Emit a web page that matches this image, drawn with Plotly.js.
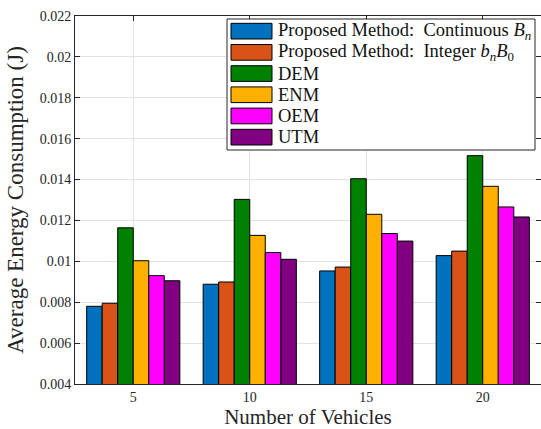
<!DOCTYPE html>
<html><head><meta charset="utf-8">
<script src="https://cdn.plot.ly/plotly-3.0.1.min.js"></script>
<style>html,body{margin:0;padding:0;background:#fff;overflow:hidden}</style>
</head><body><div id="chart" style="width:541px;height:429px"></div>
<script>
const vehicles = ['5', '10', '15', '20'];
const seriesNames = [
  'Proposed Method:&nbsp; Continuous <i>B</i><sub><i>n</i></sub>',
  'Proposed Method:&nbsp; Integer <i>b</i><sub><i>n</i></sub><i>B</i><sub>0</sub>',
  'DEM', 'ENM', 'OEM', 'UTM'
];
const continuousBn = [0.0078, 0.00888, 0.00953, 0.01028];
const integerBnB0 = [0.00795, 0.00899, 0.00972, 0.0105];
const dem = [0.01164, 0.01303, 0.01404, 0.01517];
const enm = [0.01003, 0.01127, 0.0123, 0.01367];
const oem = [0.0093, 0.01043, 0.01136, 0.01266];
const utm = [0.00905, 0.0101, 0.01099, 0.01217];
const yTickVals = [0.004, 0.006, 0.008, 0.01, 0.012, 0.014, 0.016, 0.018, 0.02, 0.022];
const yTickText = ['0.004', '0.006', '0.008', '0.01', '0.012', '0.014', '0.016', '0.018', '0.02', '0.022'];

const seriesValues = [continuousBn, integerBnB0, dem, enm, oem, utm];
const colors = ['#0072BD', '#D95319', '#008000', '#FFB000', '#FF00FF', '#800080'];

const FONT = 'Liberation Serif';
const AX = '#262626';

const traces = seriesValues.map((vals, i) => ({
  type: 'bar', x: vehicles, y: vals, name: seriesNames[i],
  marker: {color: colors[i], line: {color: '#000000', width: 1}},
  showlegend: false, hoverinfo: 'skip'
}));

// plot area in pixels: left 75, right 541, top 16, bottom 384
const L = 75, R = 541, T = 16, B = 384;
const px = x => (x - L) / (R - L);
const py = y => (B - y) / (B - T);

const shapes = [{
  type: 'rect', xref: 'paper', yref: 'paper', layer: 'above',
  x0: px(227), x1: px(535), y0: py(150), y1: py(19),
  fillcolor: '#ffffff', line: {color: AX, width: 1}
}];
const annotations = [];
const rowTop = 23.3, rowStep = 21.2, rowH = 15.7;
seriesNames.forEach((nm, i) => {
  const y0 = rowTop + i * rowStep;
  shapes.push({
    type: 'rect', xref: 'paper', yref: 'paper', layer: 'above',
    x0: px(231), x1: px(272), y0: py(y0 + rowH), y1: py(y0),
    fillcolor: colors[i], line: {color: '#000000', width: 1}
  });
  annotations.push({
    xref: 'paper', yref: 'paper', x: px(276), y: py(y0 + rowH / 2),
    xanchor: 'left', yanchor: 'middle', showarrow: false, text: nm,
    font: {family: FONT, size: 18.5, color: '#111111'}
  });
});

const layout = {
  width: 541, height: 429,
  margin: {l: L, r: 541 - R, t: T, b: 429 - B},
  paper_bgcolor: '#ffffff', plot_bgcolor: '#ffffff',
  barmode: 'group', bargap: 0.2, bargroupgap: 0,
  font: {family: FONT, color: AX},
  xaxis: {
    type: 'category', categoryorder: 'array', categoryarray: vehicles,
    range: [-0.5, 3.5], showgrid: true, gridcolor: '#e3e3e3', gridwidth: 1,
    showline: true, linecolor: AX, linewidth: 1, mirror: 'ticks',
    ticks: 'inside', ticklen: 5, tickcolor: AX,
    tickfont: {family: FONT, size: 14, color: AX},
    title: {text: 'Number of Vehicles', font: {family: FONT, size: 21, color: AX}, standoff: 8},
    zeroline: false, fixedrange: true
  },
  yaxis: {
    range: [0.004, 0.022], tickvals: yTickVals, ticktext: yTickText,
    showgrid: true, gridcolor: '#e3e3e3', gridwidth: 1,
    showline: true, linecolor: AX, linewidth: 1, mirror: 'ticks',
    ticks: 'inside', ticklen: 5, tickcolor: AX,
    tickfont: {family: FONT, size: 14, color: AX},
    title: {text: 'Average Energy Consumption (J)', font: {family: FONT, size: 23, color: AX}, standoff: 9},
    zeroline: false, fixedrange: true
  },
  shapes: shapes, annotations: annotations, showlegend: false
};

Plotly.newPlot('chart', traces, layout, {staticPlot: true, displayModeBar: false});
</script>
</body></html>
